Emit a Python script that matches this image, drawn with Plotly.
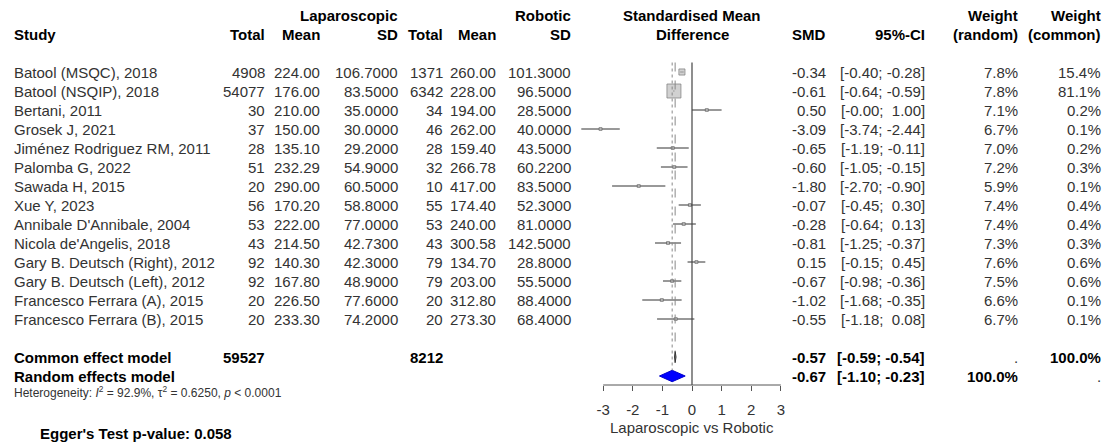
import plotly.graph_objects as go

# ---- study data -----------------------------------------------------------
studies = [
    "Batool (MSQC), 2018", "Batool (NSQIP), 2018", "Bertani, 2011", "Grosek J, 2021",
    "Jiménez Rodriguez RM, 2011", "Palomba G, 2022", "Sawada H, 2015", "Xue Y, 2023",
    "Annibale D'Annibale, 2004", "Nicola de'Angelis, 2018", "Gary B. Deutsch (Right), 2012",
    "Gary B. Deutsch (Left), 2012", "Francesco Ferrara (A), 2015", "Francesco Ferrara (B), 2015",
]
lap_total = [4908, 54077, 30, 37, 28, 51, 20, 56, 53, 43, 92, 92, 20, 20]
lap_mean = [224.00, 176.00, 210.00, 150.00, 135.10, 232.29, 290.00, 170.20, 222.00,
            214.50, 140.30, 167.80, 226.50, 233.30]
lap_sd = [106.70, 83.50, 35.00, 30.00, 29.20, 54.90, 60.50, 58.80, 77.00, 42.73,
          42.30, 48.90, 77.60, 74.20]
rob_total = [1371, 6342, 34, 46, 28, 32, 10, 55, 53, 43, 79, 79, 20, 20]
rob_mean = [260.00, 228.00, 194.00, 262.00, 159.40, 266.78, 417.00, 174.40, 240.00,
            300.58, 134.70, 203.00, 312.80, 273.30]
rob_sd = [101.30, 96.50, 28.50, 40.00, 43.50, 60.22, 83.50, 52.30, 81.00, 142.50,
          28.80, 55.50, 88.40, 68.40]
smd = [-0.34, -0.61, 0.50, -3.09, -0.65, -0.60, -1.80, -0.07, -0.28, -0.81, 0.15,
       -0.67, -1.02, -0.55]
ci_low = [-0.40, -0.64, -0.00, -3.74, -1.19, -1.05, -2.70, -0.45, -0.64, -1.25, -0.15,
          -0.98, -1.68, -1.18]
ci_high = [-0.28, -0.59, 1.00, -2.44, -0.11, -0.15, -0.90, 0.30, 0.13, -0.37, 0.45,
           -0.36, -0.35, 0.08]
ci_low_text = ["-0.40", "-0.64", "-0.00", "-3.74", "-1.19", "-1.05", "-2.70", "-0.45",
               "-0.64", "-1.25", "-0.15", "-0.98", "-1.68", "-1.18"]
weight_random = [7.8, 7.8, 7.1, 6.7, 7.0, 7.2, 5.9, 7.4, 7.4, 7.3, 7.6, 7.5, 6.6, 6.7]
weight_common = [15.4, 81.1, 0.2, 0.1, 0.2, 0.3, 0.1, 0.4, 0.4, 0.3, 0.6, 0.6, 0.1, 0.1]

# ---- pooled estimates -----------------------------------------------------
model_labels = ["Common effect model", "Random effects model"]
model_smd = [-0.57, -0.67]
model_low = [-0.59, -1.10]
model_high = [-0.54, -0.23]
model_w_random = [".", "100.0%"]
model_w_common = ["100.0%", "."]
total_lap = 59527
total_rob = 8212

x_ticks = [-3, -2, -1, 0, 1, 2, 3]
het_text = ("Heterogeneity: <i>I</i><sup>2</sup> = 92.9%, τ<sup>2</sup> = 0.6250, "
            "<i>p</i> &lt; 0.0001")
egger_text = "Egger's Test p-value: 0.058"

# ---- page geometry (pixels) -----------------------------------------------
W, H = 1111, 447
ROW0_PX, ROW_PX = 72, 19          # first study row centre, row pitch
AXIS_PX = 385                     # bottom of the forest panel
ZERO_PX, UNIT_PX = 692, 29.6      # x = 0 position, pixels per SMD unit
PANEL_L, PANEL_R = 560, 800

FONT = "Liberation Sans, Arial, Helvetica, sans-serif"
FS = 15
TXT = "#333333"

def px_x(px):
    return px / W

def px_y(py):
    return 1 - py / H

y_top = -ROW0_PX / ROW_PX
y_bottom = (AXIS_PX - ROW0_PX) / ROW_PX
x_left = (PANEL_L - ZERO_PX) / UNIT_PX
x_right = (PANEL_R - ZERO_PX) / UNIT_PX

rows = list(range(len(studies)))
model_rows = [len(studies) + 1, len(studies) + 2]

fig = go.Figure()

# confidence interval segments
seg_x, seg_y = [], []
for r, lo, hi in zip(rows, ci_low, ci_high):
    seg_x += [lo, hi, None]
    seg_y += [r, r, None]
fig.add_trace(go.Scatter(x=seg_x, y=seg_y, mode="lines",
                         line=dict(color="#333333", width=1), hoverinfo="skip"))

# study squares, area proportional to common-effect weight
sizes = [max(3.0, 14.0 * (w / max(weight_common)) ** 0.5) for w in weight_common]
fig.add_trace(go.Scatter(x=smd, y=rows, mode="markers",
                         marker=dict(symbol="square", size=sizes, color="#bebebe",
                                     line=dict(color="#444444", width=0.7)),
                         hoverinfo="skip"))

# pooled diamonds
diamond_fill = ["#808080", "#0000ff"]
diamond_line = ["#333333", "#0000cc"]
for r, est, lo, hi, fc, lc in zip(model_rows, model_smd, model_low, model_high,
                                  diamond_fill, diamond_line):
    h = 0.3
    fig.add_trace(go.Scatter(x=[lo, est, hi, est, lo], y=[r, r - h, r, r + h, r],
                             mode="lines", fill="toself", fillcolor=fc,
                             line=dict(color=lc, width=1), hoverinfo="skip"))

# reference lines
shapes = [
    dict(type="line", xref="x", yref="y", x0=0, x1=0, y0=-0.5, y1=y_bottom,
         line=dict(color="#444444", width=1.2)),
    dict(type="line", xref="x", yref="y", x0=model_smd[0], x1=model_smd[0],
         y0=-0.5, y1=model_rows[0] - 0.3, line=dict(color="#888888", width=1, dash="dash")),
    dict(type="line", xref="x", yref="y", x0=model_smd[1], x1=model_smd[1],
         y0=-0.5, y1=model_rows[1] - 0.3, line=dict(color="#888888", width=1, dash="dot")),
    dict(type="line", xref="x", yref="y domain", x0=x_ticks[0], x1=x_ticks[-1], y0=0, y1=0,
         line=dict(color="#555555", width=1)),
]

ann = []

def text(px, row, s, anchor="right", bold=False, size=FS, color=None):
    ann.append(dict(x=px_x(px), xref="paper", y=row, yref="y", text=f"<b>{s}</b>" if bold else s,
                    xanchor=anchor, yanchor="middle", showarrow=False,
                    font=dict(family=FONT, size=size,
                              color=color or ("#000000" if bold else TXT))))

def text_px(px, py, s, anchor="left", bold=False, size=FS, color=None):
    ann.append(dict(x=px_x(px), xref="paper", y=px_y(py), yref="paper",
                    text=f"<b>{s}</b>" if bold else s,
                    xanchor=anchor, yanchor="middle", showarrow=False,
                    font=dict(family=FONT, size=size,
                              color=color or ("#000000" if bold else TXT))))

# column positions (right edges unless noted)
C_STUDY = 12
C_LN, C_LM, C_LS = 267, 322, 400
C_RN, C_RM, C_RS = 445, 498, 573
C_SMD, C_CI, C_WR, C_WC = 828, 927, 1020, 1103

# headers
H1, H2 = -3, -2
text(C_LS, H1, "Laparoscopic", bold=True)
text(C_RS, H1, "Robotic", bold=True)
text(ZERO_PX, H1, "Standardised Mean", anchor="center", bold=True)
text(C_WR, H1, "Weight", bold=True)
text(C_WC, H1, "Weight", bold=True)
text(C_STUDY, H2, "Study", anchor="left", bold=True)
for px, s in [(C_LN, "Total"), (C_LM, "Mean"), (C_LS, "SD"), (C_RN, "Total"),
              (C_RM, "Mean"), (C_RS, "SD"), (C_SMD, "SMD"), (C_CI, "95%-CI"),
              (C_WR, "(random)"), (C_WC, "(common)")]:
    text(px, H2, s, bold=True)
text(ZERO_PX, H2, "Difference", anchor="center", bold=True)

def ci_str(lo_s, hi):
    hi_s = f"{hi:.2f}"
    sep = "; " if hi_s.startswith("-") else ";  "
    return f"[{lo_s}{sep}{hi_s}]"

# study rows
for r in rows:
    text(C_STUDY, r, studies[r], anchor="left")
    text(C_LN, r, f"{lap_total[r]}")
    text(C_LM, r, f"{lap_mean[r]:.2f}")
    text(C_LS, r, f"{lap_sd[r]:.4f}")
    text(C_RN, r, f"{rob_total[r]}")
    text(C_RM, r, f"{rob_mean[r]:.2f}")
    text(C_RS, r, f"{rob_sd[r]:.4f}")
    text(C_SMD, r, f"{smd[r]:.2f}")
    text(C_CI, r, ci_str(ci_low_text[r], ci_high[r]))
    text(C_WR, r, f"{weight_random[r]:.1f}%")
    text(C_WC, r, f"{weight_common[r]:.1f}%")

# pooled rows
text(C_LN, model_rows[0], f"{total_lap}", bold=True)
text(C_RN, model_rows[0], f"{total_rob}", bold=True)
for i, r in enumerate(model_rows):
    text(C_STUDY, r, model_labels[i], anchor="left", bold=True)
    text(C_SMD, r, f"{model_smd[i]:.2f}", bold=True)
    text(C_CI, r, ci_str(f"{model_low[i]:.2f}", model_high[i]), bold=True)
    text(C_WR, r, model_w_random[i], bold=model_w_random[i] != ".")
    text(C_WC, r, model_w_common[i], bold=model_w_common[i] != ".")

text_px(C_STUDY, 392, het_text, size=12)
text_px(ZERO_PX, 427, "Laparoscopic vs Robotic", anchor="center")
text_px(38, 433, egger_text, bold=True)

fig.update_layout(
    width=W, height=H,
    margin=dict(l=0, r=0, t=0, b=0),
    paper_bgcolor="white", plot_bgcolor="rgba(0,0,0,0)",
    showlegend=False,
    shapes=shapes,
    annotations=ann,
    xaxis=dict(domain=[px_x(PANEL_L), px_x(PANEL_R)], range=[x_left, x_right],
               showgrid=False, zeroline=False, showline=False,
               tickmode="array", tickvals=x_ticks, ticktext=[str(t) for t in x_ticks],
               ticks="outside", ticklen=5, tickcolor="#555555", tickwidth=1,
               ticklabelstandoff=6,
               tickfont=dict(family=FONT, size=FS, color=TXT)),
    yaxis=dict(domain=[1 - AXIS_PX / H, 1], range=[y_bottom, y_top], visible=False),
)

fig.write_html("out.html")
